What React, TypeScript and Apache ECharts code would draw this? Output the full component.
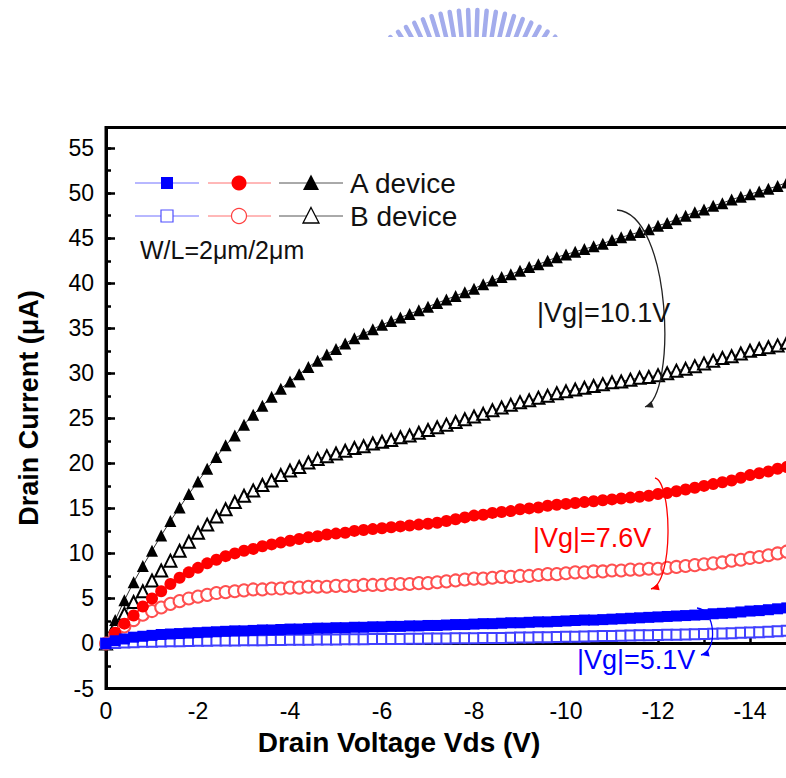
import React, { useEffect, useRef } from "react";
import * as echarts from "echarts";

// Drain voltage sweep (V)
const vds = [
  0, -0.2, -0.4, -0.6, -0.8, -1, -1.2, -1.4, -1.6, -1.8,
  -2, -2.2, -2.4, -2.6, -2.8, -3, -3.2, -3.4, -3.6, -3.8,
  -4, -4.2, -4.4, -4.6, -4.8, -5, -5.2, -5.4, -5.6, -5.8,
  -6, -6.2, -6.4, -6.6, -6.8, -7, -7.2, -7.4, -7.6, -7.8,
  -8, -8.2, -8.4, -8.6, -8.8, -9, -9.2, -9.4, -9.6, -9.8,
  -10, -10.2, -10.4, -10.6, -10.8, -11, -11.2, -11.4, -11.6, -11.8,
  -12, -12.2, -12.4, -12.6, -12.8, -13, -13.2, -13.4, -13.6, -13.8,
  -14, -14.2, -14.4, -14.6, -14.8,
];

// A device, |Vg| = 10.1 V (uA)
const aVg10 = [
  0, 2.6, 4.8, 6.8, 8.6, 10.3, 12.0, 13.6, 15.1, 16.6,
  18.0, 19.4, 20.7, 22.0, 23.1, 24.3, 25.4, 26.4, 27.4, 28.3,
  29.1, 29.9, 30.7, 31.4, 32.1, 32.7, 33.3, 33.9, 34.4, 34.9,
  35.4, 35.8, 36.2, 36.6, 37.0, 37.4, 37.8, 38.2, 38.6, 39.0,
  39.4, 39.9, 40.3, 40.7, 41.0, 41.4, 41.8, 42.1, 42.5, 42.9,
  43.2, 43.5, 43.8, 44.1, 44.4, 44.8, 45.1, 45.4, 45.7, 46.0,
  46.4, 46.7, 47.1, 47.5, 47.9, 48.2, 48.6, 48.9, 49.3, 49.6,
  49.9, 50.2, 50.5, 50.8, 51.2,
];

// B device, |Vg| = 10.1 V
const bVg10 = [
  0, 1.9, 3.3, 4.6, 5.8, 7.0, 8.1, 9.2, 10.3, 11.3,
  12.3, 13.2, 14.1, 14.9, 15.7, 16.4, 17.0, 17.6, 18.1, 18.7,
  19.2, 19.6, 20.1, 20.5, 20.8, 21.1, 21.4, 21.7, 21.9, 22.2,
  22.4, 22.6, 22.9, 23.1, 23.4, 23.7, 24.0, 24.3, 24.6, 24.9,
  25.2, 25.5, 25.9, 26.2, 26.5, 26.8, 27.0, 27.3, 27.5, 27.8,
  28.0, 28.2, 28.4, 28.6, 28.8, 29.0, 29.1, 29.3, 29.5, 29.6,
  29.8, 30.0, 30.3, 30.5, 30.8, 31.1, 31.4, 31.7, 31.9, 32.2,
  32.5, 32.7, 32.9, 33.1, 33.4,
];

// A device, |Vg| = 7.6 V
const aVg7 = [
  0, 1.2, 2.2, 3.1, 4.1, 5.0, 5.8, 6.6, 7.3, 7.9,
  8.4, 8.9, 9.3, 9.7, 10.0, 10.3, 10.5, 10.8, 11.0, 11.2,
  11.4, 11.6, 11.8, 11.9, 12.1, 12.2, 12.3, 12.5, 12.6, 12.7,
  12.8, 12.9, 13.0, 13.1, 13.2, 13.3, 13.4, 13.6, 13.8, 14.0,
  14.2, 14.3, 14.5, 14.6, 14.7, 14.9, 15.0, 15.1, 15.3, 15.4,
  15.5, 15.6, 15.7, 15.8, 15.9, 16.0, 16.1, 16.2, 16.3, 16.4,
  16.6, 16.7, 16.9, 17.1, 17.3, 17.5, 17.7, 17.9, 18.1, 18.4,
  18.7, 18.9, 19.1, 19.4, 19.6,
];

// B device, |Vg| = 7.6 V
const bVg7 = [
  0, 1.0, 1.9, 2.6, 3.2, 3.6, 4.0, 4.4, 4.7, 5.0,
  5.2, 5.4, 5.6, 5.7, 5.8, 5.9, 6.0, 6.0, 6.1, 6.1,
  6.2, 6.2, 6.3, 6.3, 6.3, 6.4, 6.4, 6.4, 6.5, 6.5,
  6.5, 6.6, 6.6, 6.6, 6.7, 6.7, 6.8, 6.9, 7.0, 7.1,
  7.2, 7.2, 7.3, 7.4, 7.4, 7.5, 7.5, 7.6, 7.7, 7.7,
  7.8, 7.9, 7.9, 8.0, 8.0, 8.1, 8.1, 8.2, 8.2, 8.3,
  8.3, 8.4, 8.5, 8.6, 8.7, 8.8, 8.9, 9.0, 9.2, 9.3,
  9.5, 9.6, 9.8, 10.0, 10.2,
];

// A device, |Vg| = 5.1 V
const aVg5 = [
  0, 0.3, 0.5, 0.7, 0.8, 0.9, 1.0, 1.05, 1.1, 1.15,
  1.2, 1.25, 1.3, 1.35, 1.4, 1.4, 1.45, 1.5, 1.5, 1.55,
  1.6, 1.6, 1.65, 1.7, 1.7, 1.75, 1.75, 1.8, 1.8, 1.85,
  1.85, 1.9, 1.9, 1.95, 1.95, 2.0, 2.0, 2.05, 2.1, 2.1,
  2.15, 2.2, 2.2, 2.25, 2.3, 2.3, 2.35, 2.4, 2.4, 2.45,
  2.5, 2.55, 2.6, 2.6, 2.65, 2.7, 2.75, 2.8, 2.85, 2.9,
  2.95, 3.0, 3.05, 3.1, 3.15, 3.2, 3.3, 3.35, 3.4, 3.5,
  3.6, 3.65, 3.75, 3.85, 3.95,
];

// B device, |Vg| = 5.1 V
const bVg5 = [
  0, 0.05, 0.1, 0.15, 0.18, 0.2, 0.22, 0.24, 0.26, 0.28,
  0.3, 0.31, 0.32, 0.33, 0.34, 0.35, 0.36, 0.37, 0.38, 0.39,
  0.4, 0.41, 0.42, 0.43, 0.44, 0.45, 0.46, 0.47, 0.48, 0.49,
  0.5, 0.5, 0.51, 0.52, 0.53, 0.54, 0.55, 0.56, 0.57, 0.58,
  0.59, 0.6, 0.61, 0.62, 0.64, 0.65, 0.67, 0.68, 0.7, 0.72,
  0.74, 0.76, 0.78, 0.8, 0.82, 0.84, 0.86, 0.88, 0.9, 0.92,
  0.94, 0.96, 0.98, 1.0, 1.02, 1.05, 1.08, 1.11, 1.14, 1.18,
  1.22, 1.26, 1.3, 1.35, 1.4,
];

const legendLabels = ["A device", "B device"];
const noteLabels = ["|Vg|=10.1V", "|Vg|=7.6V", "|Vg|=5.1V"];
const sizeLabel = "W/L=2\u03bcm/2\u03bcm";
const xTitle = "Drain Voltage Vds (V)";
const yTitle = "Drain Current (\u03bcA)";

const FONT = "'Liberation Sans', Arial, Helvetica, sans-serif";

function pairs(ys: number[]) {
  return vds.map((x, i) => [x, ys[i]]);
}

function arrowHead(tx: number, ty: number, dx: number, dy: number, color: string) {
  const l = Math.hypot(dx, dy);
  const ux = dx / l;
  const uy = dy / l;
  const len = 8;
  const half = 3.5;
  const bx = tx - ux * len;
  const by = ty - uy * len;
  return {
    type: "polygon",
    shape: {
      points: [
        [tx, ty],
        [bx - uy * half, by + ux * half],
        [bx + uy * half, by - ux * half],
      ],
    },
    style: { fill: color },
    z: 20,
  };
}

function curvedArrow(p0: number[], p1: number[], p2: number[], p3: number[], color: string) {
  return [
    {
      type: "bezierCurve",
      shape: { x1: p0[0], y1: p0[1], cpx1: p1[0], cpy1: p1[1], cpx2: p2[0], cpy2: p2[1], x2: p3[0], y2: p3[1] },
      style: { stroke: color, lineWidth: 1.3, fill: null },
      z: 20,
    },
    arrowHead(p3[0], p3[1], p3[0] - p2[0], p3[1] - p2[1], color),
  ];
}

function legendRow(y: number, filled: boolean, label: string) {
  const els: any[] = [];
  const blue = "#0000ff", red = "#ff0000", black = "#000";
  els.push({ type: "line", shape: { x1: 135, y1: y, x2: 199, y2: y }, style: { stroke: "#7070ff", lineWidth: 1 }, z: 20 });
  els.push({
    type: "rect",
    shape: { x: 161, y: y - 6, width: 12, height: 12 },
    style: filled ? { fill: blue } : { fill: "#fff", stroke: "#5050ff", lineWidth: 1.2 },
    z: 21,
  });
  els.push({ type: "line", shape: { x1: 208, y1: y, x2: 271, y2: y }, style: { stroke: "#ff7070", lineWidth: 1 }, z: 20 });
  els.push({
    type: "circle",
    shape: { cx: 239, cy: y, r: 7.5 },
    style: filled ? { fill: red } : { fill: "#fff", stroke: "#ff4040", lineWidth: 1.2 },
    z: 21,
  });
  els.push({ type: "line", shape: { x1: 279, y1: y, x2: 343, y2: y }, style: { stroke: "#555", lineWidth: 1 }, z: 20 });
  els.push({
    type: "polygon",
    shape: { points: [[311, y - 8.5], [319, y + 7], [303, y + 7]] },
    style: filled ? { fill: black } : { fill: "#fff", stroke: black, lineWidth: 1.3 },
    z: 21,
  });
  els.push({
    type: "text",
    x: 350,
    y: y,
    style: { text: label, fontSize: 28, fontFamily: FONT, fill: "#111", align: "left", verticalAlign: "middle" },
    z: 21,
  });
  return els;
}

function logo() {
  const els: any[] = [];
  const cx = 473, cy = 150;
  for (let a = 54; a <= 126.5; a += 3.8) {
    const r = (a * Math.PI) / 180;
    els.push({
      type: "line",
      shape: {
        x1: cx + 112 * Math.cos(r), y1: cy - 112 * Math.sin(r),
        x2: cx + 140 * Math.cos(r), y2: cy - 140 * Math.sin(r),
      },
      style: { stroke: "#a3acec", lineWidth: 4.5, lineCap: "round" },
      z: 1,
    });
  }
  els.push({ type: "rect", shape: { x: 360, y: 37, width: 240, height: 80 }, style: { fill: "#fff" }, z: 2 });
  return els;
}

export default function App() {
  const ref = useRef<HTMLDivElement>(null);
  useEffect(() => {
    if (!ref.current) return;
    const chart = echarts.init(ref.current, null, { renderer: "svg" });
    const axisText = { color: "#000", fontSize: 23, fontFamily: FONT };
    const option: any = {
      animation: false,
      backgroundColor: "#fff",
      grid: { left: 106, top: 127.5, width: 736, height: 561, show: true, borderColor: "#000", borderWidth: 3 },
      xAxis: {
        type: "value",
        min: -16,
        max: 0,
        interval: 2,
        inverse: true,
        axisLine: { show: true, lineStyle: { color: "#000", width: 3 } },
        axisTick: { show: true, inside: true, length: 9, lineStyle: { color: "#000", width: 2.5 } },
        minorTick: { show: true, splitNumber: 2, length: 5, lineStyle: { color: "#000", width: 2.5 } },
        axisLabel: {
          ...axisText,
          margin: 11,
          formatter: (v: number) => (v < -15 ? "" : String(v)),
        },
        splitLine: { show: false },
      },
      yAxis: [
        {
          type: "value",
          min: -5,
          max: 57.3,
          interval: 5,
          position: "left",
          axisLine: { show: true, lineStyle: { color: "#000", width: 3 } },
          axisTick: { show: true, inside: true, length: 9, lineStyle: { color: "#000", width: 2.5 } },
          axisLabel: { ...axisText, margin: 12, showMaxLabel: false },
          splitLine: { show: false },
          name: yTitle,
          nameLocation: "middle",
          nameGap: 64,
          nameTextStyle: { color: "#000", fontSize: 27, fontWeight: "bold", fontFamily: FONT },
        },
        {
          type: "value",
          min: -5,
          max: 57.3,
          interval: 2.5,
          position: "left",
          offset: 0,
          axisLine: { show: false },
          axisTick: { show: true, inside: true, length: 5, lineStyle: { color: "#000", width: 2.5 } },
          axisLabel: { show: false },
          splitLine: { show: false },
        },
      ],
      series: [
        {
          name: "B 10.1V", type: "line", data: pairs(bVg10), symbol: "emptyTriangle", symbolSize: 12,
          itemStyle: { color: "#000", borderWidth: 1 }, lineStyle: { color: "#333", width: 1 }, z: 3,
        },
        {
          name: "A 10.1V", type: "line", data: pairs(aVg10), symbol: "triangle", symbolSize: 12,
          itemStyle: { color: "#000" }, lineStyle: { color: "#333", width: 1 }, z: 4,
        },
        {
          name: "B 7.6V", type: "line", data: pairs(bVg7), symbol: "emptyCircle", symbolSize: 12,
          itemStyle: { color: "#ff5050", borderWidth: 1 }, lineStyle: { color: "#ff7070", width: 1 }, z: 5,
        },
        {
          name: "A 7.6V", type: "line", data: pairs(aVg7), symbol: "circle", symbolSize: 12,
          itemStyle: { color: "#ff0000" }, lineStyle: { color: "#ff0000", width: 1 }, z: 6,
        },
        {
          name: "B 5.1V", type: "line", data: pairs(bVg5), symbol: "emptyRect", symbolSize: 10,
          itemStyle: { color: "#4040ff", borderWidth: 1 }, lineStyle: { color: "#6060ff", width: 1 }, z: 7,
        },
        {
          name: "A 5.1V", type: "line", data: pairs(aVg5), symbol: "rect", symbolSize: 11,
          itemStyle: { color: "#0000ff" }, lineStyle: { color: "#0000ff", width: 1 }, z: 8,
        },
      ],
      graphic: [
        ...logo(),
        ...legendRow(183, true, legendLabels[0]),
        ...legendRow(216, false, legendLabels[1]),
        {
          type: "text", x: 140, y: 250,
          style: { text: sizeLabel, fontSize: 25, fontFamily: FONT, fill: "#111", align: "left", verticalAlign: "middle" },
          z: 21,
        },
        {
          type: "text", x: 399, y: 742,
          style: { text: xTitle, fontSize: 28, fontWeight: "bold", fontFamily: FONT, fill: "#000", align: "center", verticalAlign: "middle" },
          z: 21,
        },
        {
          type: "text", x: 537, y: 313,
          style: { text: noteLabels[0], fontSize: 27, fontFamily: FONT, fill: "#111", align: "left", verticalAlign: "middle" },
          z: 21,
        },
        {
          type: "text", x: 533, y: 538,
          style: { text: noteLabels[1], fontSize: 27, fontFamily: FONT, fill: "#ff0000", align: "left", verticalAlign: "middle" },
          z: 21,
        },
        {
          type: "text", x: 577, y: 660,
          style: { text: noteLabels[2], fontSize: 27, fontFamily: FONT, fill: "#0000ff", align: "left", verticalAlign: "middle" },
          z: 21,
        },
        ...curvedArrow([617, 210], [672, 214], [677, 396], [645, 407], "#222"),
        ...curvedArrow([655, 478], [672, 482], [674, 583], [651, 589], "#ff0000"),
        ...curvedArrow([697, 608], [716, 610], [718, 651], [701, 655], "#0000ff"),
      ],
    };
    chart.setOption(option);
    return () => chart.dispose();
  }, []);
  return (
    <div
      style={{
        position: "absolute", left: 0, top: 0, width: 786, height: 778,
        overflow: "hidden", background: "#fff",
      }}
    >
      <div ref={ref} style={{ width: 860, height: 778 }} />
    </div>
  );
}
